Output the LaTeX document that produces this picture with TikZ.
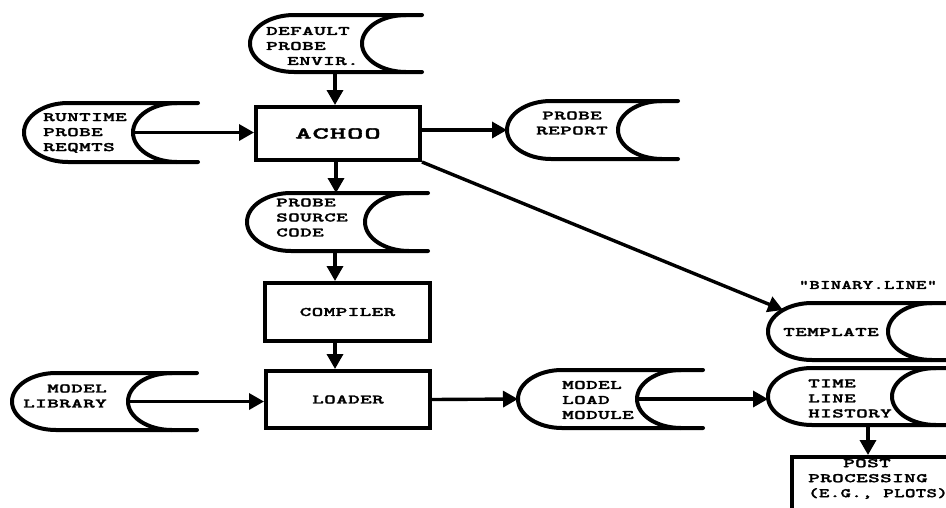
\documentclass[tikz,border=0pt]{standalone}
\usepackage{fontspec}
\newfontfamily\olf[FakeStretch=1.7,LetterSpace=3,FakeBold=2]{lmmonolt10-bold.otf}
\newfontfamily\olfbig[FakeStretch=1.9,LetterSpace=5,FakeBold=2]{lmmonolt10-bold.otf}
\usetikzlibrary{arrows.meta}
\tikzset{
  sdline/.style={line width=4pt, line join=round, line cap=round},
  boxnode/.style={draw, line width=4pt, inner sep=0pt},
  lbl/.style={font=\olf\fontsize{13}{15}\selectfont, inner sep=0pt},
  conn/.style={line width=3.4pt, -{Triangle[length=15pt,width=16pt]}},
}
\newcommand\sdR{44}
\newcommand\sdsym[6]{%
  \pgfmathsetmacro\sdM{(#2+#3)/2}%
  \pgfmathsetmacro\sdH{(#3-#2)/2}%
  \draw[sdline] (#5,#2) -- ({#1+\sdR},#2)
    .. controls ({#1+0.448*\sdR},#2) and (#1,{\sdM-0.552*\sdH}) .. (#1,\sdM)
    .. controls (#1,{\sdM+0.552*\sdH}) and ({#1+0.448*\sdR},#3) .. ({#1+\sdR},#3)
    -- (#5,#3);
  \draw[sdline] ({#4+\sdR},#2)
    .. controls ({#4+0.448*\sdR},#2) and (#4,{\sdM-0.552*\sdH}) .. (#4,\sdM)
    .. controls (#4,{\sdM+0.552*\sdH}) and ({#4+0.448*\sdR},#3) .. ({#4+\sdR},#3);
  \coordinate (#6-w) at (#1,\sdM);
  \coordinate (#6-i) at (#4,\sdM);
}
\begin{document}
\begin{tikzpicture}[x=1pt,y=-1pt]
\useasboundingbox (0,0) rectangle (946,507);
\clip (0,0) rectangle (946,507);
\fill[white] (0,0) rectangle (946,507);

\sdsym{250}{15}{72}{362}{422}{dpe}
\sdsym{24}{103}{162}{133}{198}{rpr}
\sdsym{507}{101}{159}{618}{678}{prep}
\sdsym{247}{193}{251}{365}{428}{psc}
\sdsym{12}{373}{430}{128}{197}{mlib}
\sdsym{518}{370}{428}{637}{703}{mlm}
\sdsym{768}{303}{360}{888}{965}{tmpl}
\sdsym{768}{368}{425}{892}{965}{tlh}

\coordinate (dpe-s) at (335,72);
\coordinate (psc-n) at (336,193);
\coordinate (psc-s) at (335,251);
\coordinate (tmpl-t) at (783,310);
\coordinate (tlh-s) at (868,425);

\node[boxnode, minimum width=164pt, minimum height=53pt, font=\olfbig\fontsize{16.5}{18}\selectfont] (achoo) at (338,133.5) {ACHOO};
\node[lbl, boxnode, minimum width=165pt, minimum height=58pt] (comp) at (347.5,312) {COMPILER};
\node[lbl, boxnode, minimum width=164pt, minimum height=57pt] (loader) at (348,399.5) {LOADER};
\node[boxnode, minimum width=180pt, minimum height=70pt, anchor=north west] (post) at (790,455) {};

\node[lbl, align=left, anchor=west] (tdpe) at (266,46) {DEFAULT\\PROBE\\\hspace*{21pt}ENVIR.};
\node[lbl, align=left, anchor=west] (trpr) at (43,133) {RUNTIME\\PROBE\\REQMTS};
\node[lbl, align=center] (tprep) at (572,123) {PROBE\\REPORT};
\node[lbl, align=left, anchor=west] (tpsc) at (276,217.5) {PROBE\\SOURCE\\CODE};
\node[lbl, align=right, anchor=east] (tmlib) at (107,396) {MODEL\\LIBRARY};
\node[lbl, align=left, anchor=west] (tmlm) at (562,400) {MODEL\\LOAD\\MODULE};
\node[lbl] (ttmpl) at (831,332) {TEMPLATE};
\node[lbl] (tbin) at (868,285) {\scalebox{0.89}[1]{"BINARY.LINE"}};
\node[lbl, align=left, anchor=west] (ttlh) at (808,398.5) {TIME\\LINE\\HISTORY};
\node[lbl, align=left, anchor=west] (tpost) at (808,479) {\hspace*{35pt}POST\\PROCESSING\\\scalebox{0.9}[1]{(E.G., PLOTS)}};

\draw[conn] (dpe-s) -- (dpe-s |- achoo.north);
\draw[conn] (rpr-i) -- (rpr-i -| achoo.west);
\draw[conn] (prep-w -| achoo.east) -- (prep-w);
\draw[conn] (psc-n |- achoo.south) -- (psc-n);
\draw[conn] (psc-s) -- (psc-s |- comp.north);
\draw[conn] (psc-s |- comp.south) -- (psc-s |- loader.north);
\draw[conn] (mlib-i) -- (mlib-i -| loader.west);
\draw[conn] (loader.east) -- (mlm-w);
\draw[conn] (mlm-i) -- (mlm-i -| tlh-w);
\draw[conn] (achoo.south east) -- (tmpl-t);
\draw[conn] (tlh-s) -- (tlh-s |- post.north);
\end{tikzpicture}
\end{document}
